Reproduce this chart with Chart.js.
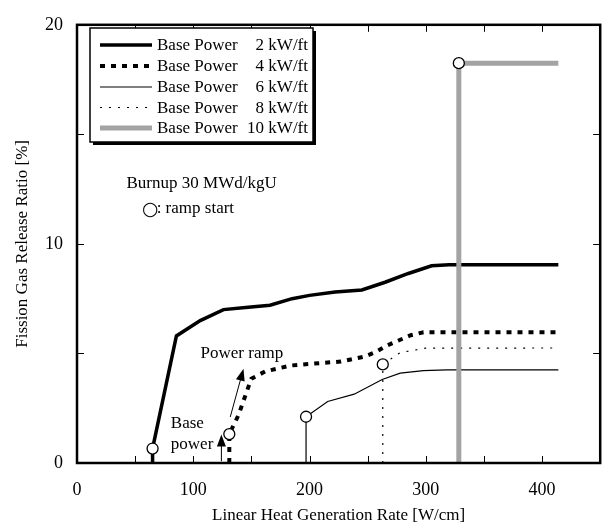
<!DOCTYPE html>
<html>
<head>
<meta charset="utf-8">
<script src="https://cdn.jsdelivr.net/npm/chart.js@4/dist/chart.umd.min.js"></script>
<style>
  html, body { margin: 0; padding: 0; background: #fff; }
  #wrap { width: 607px; height: 528px; }
</style>
</head>
<body>
<div id="wrap"><canvas id="c" width="607" height="528"></canvas></div>
<script>
// Fission gas release vs. linear heat generation rate, burnup 30 MWd/kgU.
// Each curve: drop line from 0 up to the ramp start, then the ramp response.
const basePowers = [2, 4, 6, 8, 10];               // kW/ft

const bp2X  = [65, 65, 85.5, 106, 126, 145, 166, 185, 200, 222, 245, 265, 285, 305, 320, 414];
const bp2Y  = [0, 0.66, 5.8, 6.5, 7.0, 7.1, 7.2, 7.5, 7.65, 7.8, 7.9, 8.25, 8.65, 9.0, 9.05, 9.05];

const bp4X  = [131, 131, 139, 146, 150, 162, 184, 199, 227, 247, 257, 267, 287, 298, 414];
const bp4Y  = [0, 1.32, 2.2, 3.26, 3.85, 4.18, 4.45, 4.52, 4.63, 4.85, 5.07, 5.37, 5.83, 5.97, 5.97];

const bp6X  = [197, 197, 215.6, 238.4, 262.5, 278, 298, 318, 414];
const bp6Y  = [0, 2.11, 2.81, 3.14, 3.81, 4.1, 4.22, 4.25, 4.25];

const bp8X  = [263, 263, 278, 300, 414];
const bp8Y  = [0, 4.5, 5.04, 5.24, 5.25];

const bp10X = [328.4, 328.4, 414];
const bp10Y = [0, 18.25, 18.25];

const xTicks = [0, 100, 200, 300, 400];
const yTicks = [0, 10, 20];

const serif = "'Liberation Serif', 'Times New Roman', serif";

const seriesX = [bp2X, bp4X, bp6X, bp8X, bp10X];
const seriesY = [bp2Y, bp4Y, bp6Y, bp8Y, bp10Y];

const styles = [
  { color: '#000', width: 3.5, dash: [] },
  { color: '#000', width: 4,   dash: [5, 6] },
  { color: '#000', width: 1.2, dash: [] },
  { color: '#000', width: 1.2, dash: [2, 7] },
  { color: '#a3a3a3', width: 5, dash: [] }
];

const pts = (xs, ys) => xs.map((x, i) => ({ x, y: ys[i] }));

const datasets = basePowers.map((bp, i) => ({
  label: 'Base Power ' + bp + ' kW/ft',
  data: pts(seriesX[i], seriesY[i]),
  borderColor: styles[i].color,
  borderWidth: styles[i].width,
  borderDash: styles[i].dash,
  pointRadius: 0,
  fill: false,
  tension: 0,
  order: 5 - i
}));

// Ramp start markers: the second point of every curve
datasets.unshift({
  label: 'ramp start',
  data: seriesX.map((xs, i) => ({ x: xs[1], y: seriesY[i][1] })),
  showLine: false,
  pointRadius: 5.5,
  pointBorderWidth: 1.3,
  pointBorderColor: '#000',
  pointBackgroundColor: '#fff',
  order: -1
});

// Text notes and arrows placed in data coordinates
const notes = [
  { text: 'Burnup 30 MWd/kgU', x: 42.6, y: 12.75 },
  { text: ': ramp start',        x: 68.5, y: 11.6 },
  { text: 'Power ramp',          x: 106.3, y: 5.0 },
  { text: 'Base',                x: 80.7, y: 1.8 },
  { text: 'power',               x: 80.7, y: 0.85 }
];
const keySymbol = { text: '\u25CB', x: 56, y: 11.6 };
const arrows = [
  { x0: 131.8, y0: 2.1, x1: 143.2, y1: 4.3 },
  { x0: 124.2, y0: 0.08, x1: 124.2, y1: 1.3 }
];

function arrow(ctx, ax, ay, bx, by) {
  const ang = Math.atan2(by - ay, bx - ax);
  const L = 12, W = 4.5;
  ctx.beginPath();
  ctx.moveTo(ax, ay);
  ctx.lineTo(bx - Math.cos(ang) * L * 0.8, by - Math.sin(ang) * L * 0.8);
  ctx.stroke();
  ctx.beginPath();
  ctx.moveTo(bx, by);
  ctx.lineTo(bx - Math.cos(ang) * L - Math.sin(ang) * W, by - Math.sin(ang) * L + Math.cos(ang) * W);
  ctx.lineTo(bx - Math.cos(ang) * L + Math.sin(ang) * W, by - Math.sin(ang) * L - Math.cos(ang) * W);
  ctx.closePath();
  ctx.fill();
}

const decor = {
  id: 'decor',
  beforeDatasetsDraw(chart) {
    const { ctx, chartArea: a, scales: { x, y } } = chart;
    ctx.save();
    ctx.strokeStyle = '#000';
    ctx.lineWidth = 1;
    // inward tick marks on all four sides
    for (let v = 0; v <= 450; v += 50) {
      const px = Math.round(x.getPixelForValue(v)) + 0.5;
      ctx.beginPath();
      ctx.moveTo(px, a.bottom); ctx.lineTo(px, a.bottom - 7);
      ctx.moveTo(px, a.top); ctx.lineTo(px, a.top + 7);
      ctx.stroke();
    }
    for (let v = 0; v <= 20; v += 5) {
      const py = Math.round(y.getPixelForValue(v)) + 0.5;
      ctx.beginPath();
      ctx.moveTo(a.left, py); ctx.lineTo(a.left + 7, py);
      ctx.moveTo(a.right, py); ctx.lineTo(a.right - 7, py);
      ctx.stroke();
    }
    ctx.restore();
  },
  afterDraw(chart) {
    const { ctx, chartArea: a, scales: { x, y } } = chart;
    ctx.save();
    // plot frame
    ctx.strokeStyle = '#000';
    ctx.lineWidth = 2.5;
    ctx.strokeRect(a.left, a.top, a.right - a.left, a.bottom - a.top);

    // notes and arrows
    ctx.fillStyle = '#000';
    ctx.font = '17px ' + serif;
    ctx.textBaseline = 'middle';
    ctx.textAlign = 'left';
    notes.forEach(n => ctx.fillText(n.text, x.getPixelForValue(n.x), y.getPixelForValue(n.y)));
    ctx.font = "19px 'DejaVu Sans', sans-serif";
    ctx.fillText(keySymbol.text, x.getPixelForValue(keySymbol.x), y.getPixelForValue(keySymbol.y) + 1);
    ctx.lineWidth = 1;
    arrows.forEach(r => arrow(ctx,
      x.getPixelForValue(r.x0), y.getPixelForValue(r.y0),
      x.getPixelForValue(r.x1), y.getPixelForValue(r.y1)));

    // legend box with drop shadow
    ctx.font = '17px ' + serif;
    const bx = 90, by = 28, bw = 223, bh = 114;
    ctx.fillStyle = '#000';
    ctx.fillRect(bx + 3, by + 3, bw, bh);
    ctx.fillStyle = '#fff';
    ctx.fillRect(bx, by, bw, bh);
    ctx.lineWidth = 1.5;
    ctx.strokeRect(bx, by, bw, bh);

    const rowY = [45, 66, 87, 107.5, 128];
    basePowers.forEach((bp, i) => {
      const s = styles[i];
      const ly = rowY[i];
      ctx.strokeStyle = s.color;
      ctx.lineWidth = s.width;
      ctx.setLineDash(s.dash);
      ctx.beginPath();
      ctx.moveTo(100, ly); ctx.lineTo(152, ly);
      ctx.stroke();
      ctx.setLineDash([]);
      ctx.fillStyle = '#000';
      ctx.textAlign = 'left';
      ctx.fillText('Base Power', 157, ly + 1);
      ctx.textAlign = 'right';
      ctx.fillText(bp + ' kW/ft', 308, ly + 1);
    });
    ctx.restore();
  }
};

new Chart(document.getElementById('c'), {
  type: 'line',
  data: { datasets },
  options: {
    responsive: false,
    animation: false,
    devicePixelRatio: 1,
    layout: { padding: { top: 15, right: 2, left: 0, bottom: 0 } },
    plugins: { legend: { display: false }, tooltip: { enabled: false } },
    scales: {
      x: {
        type: 'linear', min: 0, max: 450,
        afterBuildTicks: s => { s.ticks = xTicks.map(v => ({ value: v })); },
        afterFit: s => { s.height = 65; },
        grid: { display: false, drawTicks: false },
        border: { display: false },
        ticks: { color: '#000', font: { family: serif, size: 18 }, padding: 16, maxRotation: 0 },
        title: { display: true, text: 'Linear Heat Generation Rate [W/cm]', color: '#000',
                 font: { family: serif, size: 17 }, padding: { top: 4, bottom: 2 } }
      },
      y: {
        type: 'linear', min: 0, max: 20,
        afterBuildTicks: s => { s.ticks = yTicks.map(v => ({ value: v })); },
        afterFit: s => { s.width = 77; },
        grid: { display: false, drawTicks: false },
        border: { display: false },
        ticks: { color: '#000', font: { family: serif, size: 18 }, padding: 14 },
        title: { display: true, text: 'Fission Gas Release Ratio [%]', color: '#000',
                 font: { family: serif, size: 17 }, padding: { top: 12, bottom: 0 } }
      }
    }
  },
  plugins: [decor]
});
</script>
</body>
</html>
